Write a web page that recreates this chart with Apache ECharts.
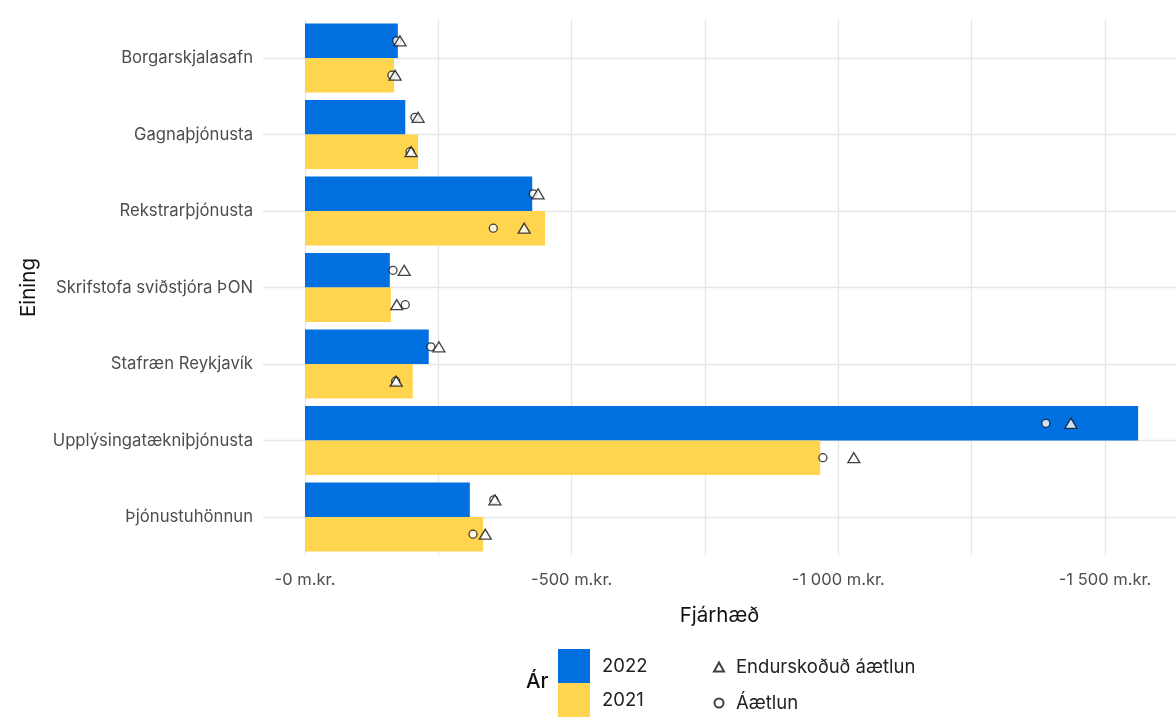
<!DOCTYPE html>
<html><head><meta charset="utf-8">
<script src="https://cdn.jsdelivr.net/npm/echarts@6/dist/echarts.min.js"></script>
<style>html,body{margin:0;padding:0;background:#fff}#c{width:1176px;height:717px}</style>
</head><body><div id="c"></div>
<script>
const categories = ['Borgarskjalasafn','Gagnaþjónusta','Rekstrarþjónusta','Skrifstofa sviðstjóra ÞON','Stafræn Reykjavík','Upplýsingatækniþjónusta','Þjónustuhönnun'];
const actual2022 = [-174,-188,-426,-159,-232,-1562,-309];
const actual2021 = [-167,-212,-450,-161,-202,-966,-334];
const revised2022 = [-178,-212,-437,-186,-251,-1436,-356];
const plan2022 = [-172,-206,-428,-165,-236,-1389,-354];
const revised2021 = [-169,-199,-411,-172,-171,-1029,-338];
const plan2021 = [-163,-197,-353,-188,-170,-971,-315];
const xTickValues = [0,-500,-1000,-1500];
const xTickLabels = ['-0 m.kr.','-500 m.kr.','-1 000 m.kr.','-1 500 m.kr.'];
const xGridValues = [0,-250,-500,-750,-1000,-1250,-1500];

const FONT = 'Inter';
const chart = echarts.init(document.getElementById('c'));
const pts = (arr) => arr.map((v,i)=>[v, categories[i]]);
const ptStyle = {color:'#fff', borderColor:'#111', borderWidth:1.3};
const OFF = 17.2;

chart.setOption({
  animation:false,
  textStyle:{fontFamily:FONT},
  grid:{left:263, right:0, top:19.75, bottom:161.75, containLabel:false},
  xAxis:{
    type:'value', inverse:true, min:-1633, max:78.75,
    axisLine:{show:false},
    axisTick:{show:false, customValues:xGridValues},
    splitLine:{show:true, lineStyle:{color:'#e6e6e6', width:1.3}},
    axisLabel:{customValues:xTickValues, formatter:(v)=>xTickLabels[xTickValues.indexOf(v)], margin:16, fontSize:16.5, color:'#4d4d4d', fontFamily:FONT},
    name:'Fjárhæð', nameLocation:'middle', nameGap:50,
    nameTextStyle:{fontSize:20.5, color:'#111', fontFamily:FONT}
  },
  yAxis:{
    type:'category', inverse:true, data:categories,
    axisLine:{show:false}, axisTick:{show:false},
    splitLine:{show:true, alignWithLabel:true, lineStyle:{color:'#e6e6e6', width:1.3}},
    axisLabel:{margin:10, fontSize:16.7, color:'#4d4d4d', fontFamily:FONT},
    name:'Eining', nameLocation:'middle', nameRotate:90, nameGap:224,
    nameTextStyle:{fontSize:20.5, color:'#111', fontFamily:FONT}
  },
  legend:[
    {data:[{name:'2022',icon:'rect'},{name:'2021',icon:'rect'}], orient:'vertical', left:558, top:649,
     itemWidth:32, itemHeight:34, itemGap:0, padding:0,
     textStyle:{fontSize:18.5, color:'#222', fontFamily:FONT, padding:[0,0,0,7]}},
    {data:[{name:'Endurskoðuð áætlun',icon:'triangle'},{name:'Áætlun',icon:'circle'}], orient:'vertical', left:713, top:656,
     itemWidth:10, itemHeight:9, itemGap:14, padding:0,
     textStyle:{fontSize:18.5, color:'#222', fontFamily:FONT, lineHeight:22, padding:[0,0,0,7]}}
  ],
  graphic:[{type:'text', left:526, top:671, style:{text:'Ár', fontSize:20.5, fontWeight:500, fill:'#111', fontFamily:FONT}}],
  series:[
    {name:'2022', type:'bar', data:actual2022, barGap:'0%', barCategoryGap:'10%', itemStyle:{color:'#0070E0'}},
    {name:'2021', type:'bar', data:actual2021, itemStyle:{color:'#FFD54F'}},
    {name:'Áætlun', type:'scatter', data:pts(plan2022), symbol:'circle', symbolSize:8, symbolOffset:[0,-OFF], itemStyle:ptStyle, z:5},
    {name:'Endurskoðuð áætlun', type:'scatter', data:pts(revised2022), symbol:'triangle', symbolSize:[12,10], symbolOffset:[0,-OFF], itemStyle:ptStyle, z:6},
    {name:'Áætlun', type:'scatter', data:pts(plan2021), symbol:'circle', symbolSize:8, symbolOffset:[0,OFF], itemStyle:ptStyle, z:5},
    {name:'Endurskoðuð áætlun', type:'scatter', data:pts(revised2021), symbol:'triangle', symbolSize:[12,10], symbolOffset:[0,OFF], itemStyle:ptStyle, z:6}
  ]
});
</script></body></html>
